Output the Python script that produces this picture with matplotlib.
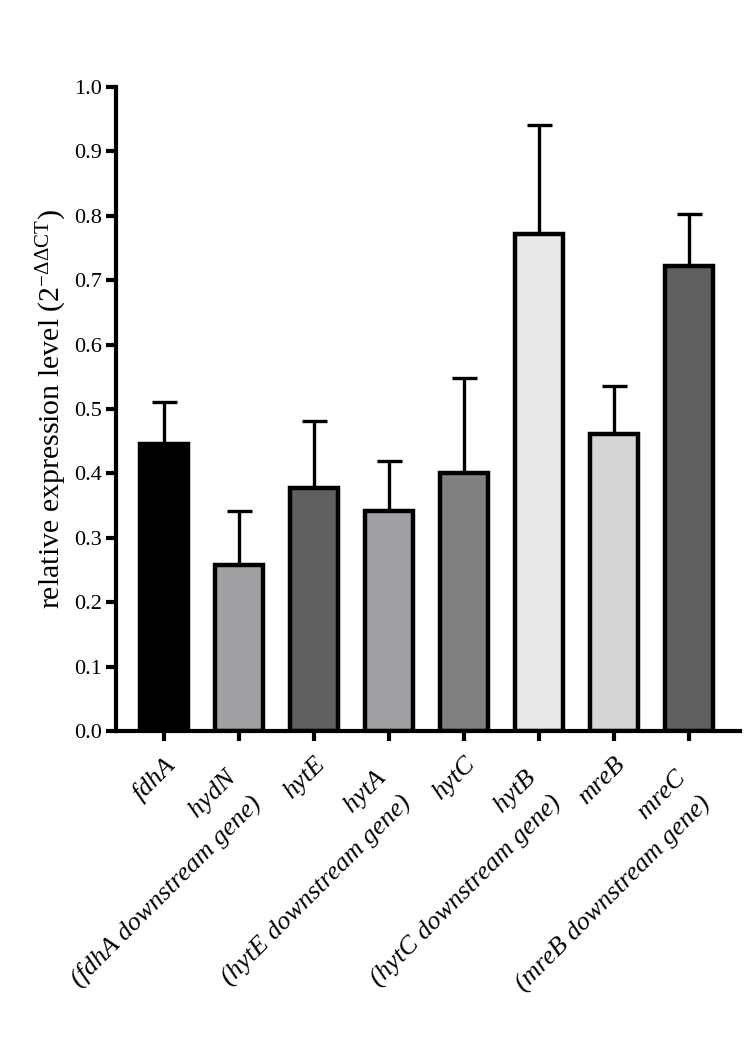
import numpy as np
import matplotlib.pyplot as plt

plt.rcParams["font.family"] = ["Liberation Serif", "DejaVu Serif"]
plt.rcParams["mathtext.fontset"] = "custom"
plt.rcParams["mathtext.rm"] = "Liberation Serif"
plt.rcParams["mathtext.it"] = "Liberation Serif:italic"

genes = ["fdhA", "hydN   \n(fdhA downstream gene)   ", "hytE", "hytA   \n(hytE downstream gene)   ",
         "hytC", "hytB   \n(hytC downstream gene)   ", "mreB", "mreC   \n(mreB downstream gene)   "]
means = [0.445, 0.258, 0.378, 0.342, 0.401, 0.772, 0.461, 0.722]
upper = [0.511, 0.341, 0.481, 0.419, 0.548, 0.941, 0.536, 0.802]
colors = ["#000000", "#a0a0a4", "#606060", "#a0a0a4", "#808080", "#e8e8e8", "#d6d6d6", "#606060"]

errs = np.array(upper) - np.array(means)
x = np.arange(len(genes))

fig = plt.figure(figsize=(7.55, 10.38), dpi=100)
ax = fig.add_axes([0.1536, 0.2958, 0.8264, 0.6204])

ax.bar(x, means, width=0.63, color=colors, edgecolor="black", linewidth=3.2, zorder=2)
ax.errorbar(x, means, yerr=[np.zeros(len(x)), errs], fmt="none", ecolor="black",
            elinewidth=2.4, capsize=9, capthick=2.4, zorder=1)

ax.set_xlim(-0.64, 7.68)
ax.set_ylim(0, 1.0)
ax.set_yticks(np.arange(0, 1.01, 0.1))
ax.set_yticklabels([f"{v:.1f}" for v in np.arange(0, 1.01, 0.1)], fontsize=16)
ax.set_xticks(x)
ax.set_xticklabels(genes, rotation=45, ha="right", rotation_mode="anchor",
                   fontsize=19, style="italic", multialignment="right", linespacing=1.72)
ax.set_ylabel(r"relative expression level (2$^{-\Delta\Delta \mathrm{CT}}$)", fontsize=21.5, labelpad=4)

for side in ["top", "right"]:
    ax.spines[side].set_visible(False)
for side in ["left", "bottom"]:
    ax.spines[side].set_linewidth(3)
ax.tick_params(axis="both", width=3, length=7, direction="out")
ax.tick_params(axis="x", pad=9)
ax.tick_params(axis="y", pad=3)

fig.savefig("out.png", dpi=100)
